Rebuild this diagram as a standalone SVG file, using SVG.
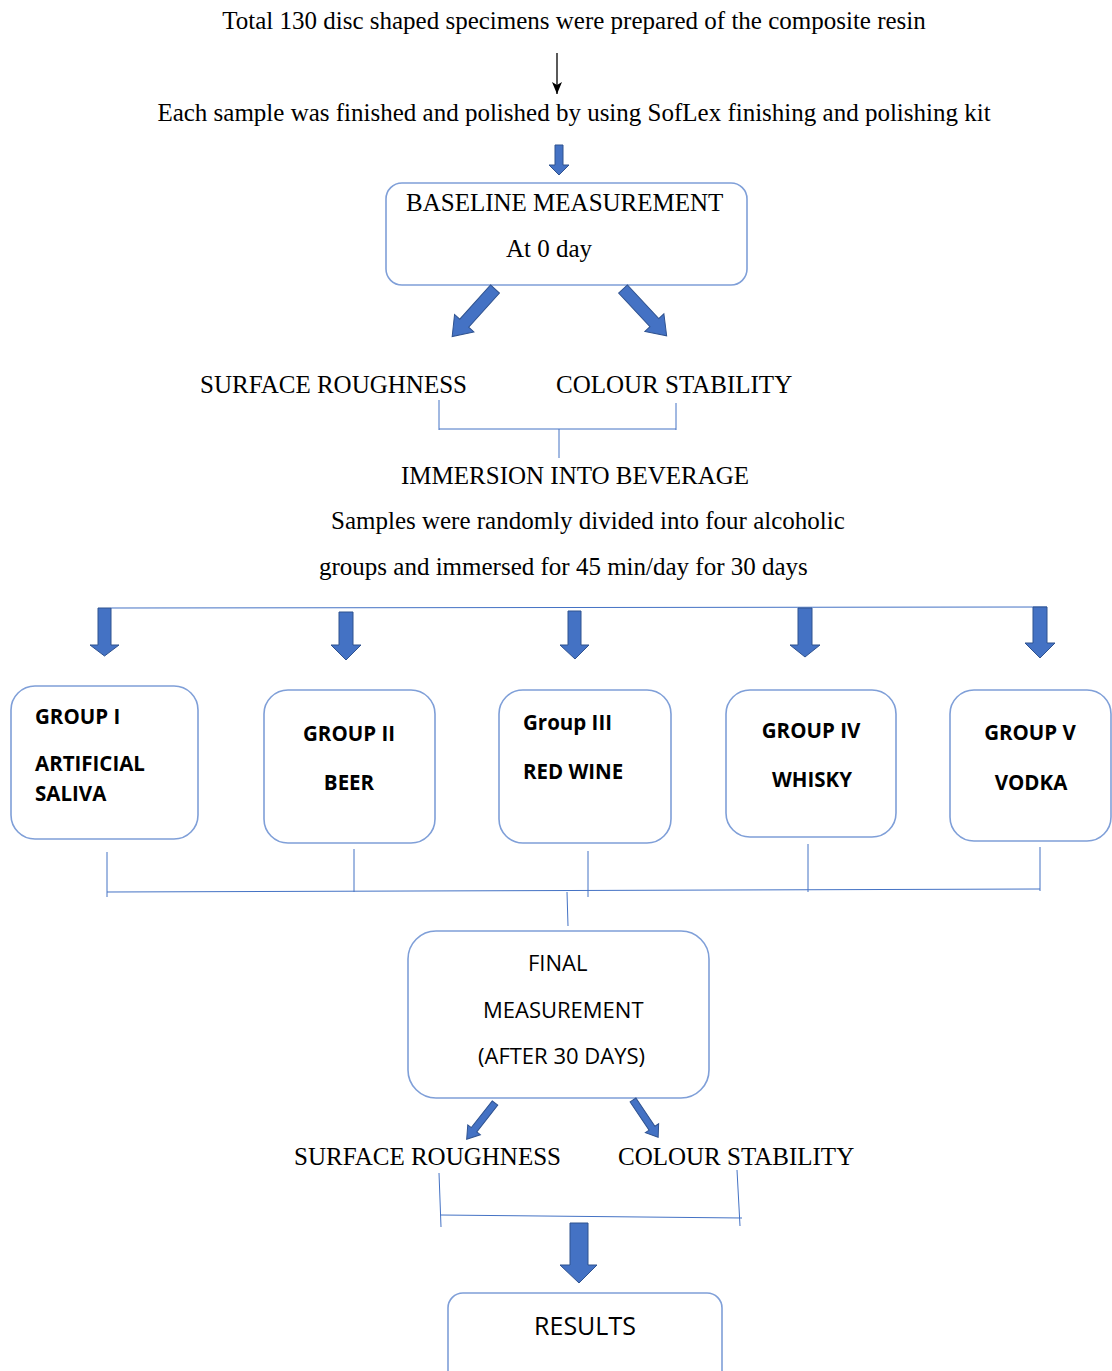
<svg xmlns="http://www.w3.org/2000/svg" width="1112" height="1371" viewBox="0 0 1112 1371">
<style>
.bg{fill:#ffffff}
.ser{font-family:"Liberation Serif","Times New Roman",serif;font-size:25px;fill:#000}
.sb{font-family:"Open Sans","Noto Sans",sans-serif;font-weight:700;font-size:20.5px;fill:#000}
.sr{font-family:"Open Sans","Noto Sans",sans-serif;font-size:22px;fill:#000}
.box{fill:#fff;stroke:#7f9fd8;stroke-width:1.6}
.ln{fill:none;stroke:#4472c4;stroke-width:1}
.blk{fill:#4472c4;stroke:#2f528f;stroke-width:1}
.mid{text-anchor:middle}
</style>
<defs>
<marker id="ah" markerWidth="12" markerHeight="10" refX="12" refY="5" orient="auto" markerUnits="userSpaceOnUse" viewBox="0 0 12 10">
<path d="M0,0 L12,5 L0,10 L3,5 Z" fill="#000"/>
</marker>
</defs>
<rect class="bg" x="0" y="0" width="1112" height="1371"/>

<g id="intro">
<text class="ser mid" x="574" y="29">Total 130 disc shaped specimens were prepared of the composite resin</text>
<text class="ser mid" x="574" y="121">Each sample was finished and polished by using SofLex finishing and polishing kit</text>
</g>

<g id="baseline">
<rect class="box" x="386" y="183" width="361" height="102" rx="16"/>
<text class="ser" x="406" y="211">BASELINE MEASUREMENT</text>
<text class="ser" x="506" y="257">At 0 day</text>
</g>

<g id="labels1">
<text class="ser" x="200" y="393">SURFACE ROUGHNESS</text>
<text class="ser" x="556" y="393">COLOUR STABILITY</text>
</g>

<g id="immersion">
<text class="ser" x="401" y="484">IMMERSION INTO BEVERAGE</text>
<text class="ser" x="331" y="529">Samples were randomly divided into four alcoholic</text>
<text class="ser" x="319" y="575">groups and immersed for 45 min/day for 30 days</text>
</g>

<g id="group1">
<rect class="box" x="11" y="686" width="187" height="153" rx="24"/>
<text class="sb" x="35" y="724">GROUP I</text>
<text class="sb" x="35" y="771">ARTIFICIAL</text>
<text class="sb" x="35" y="801">SALIVA</text>
</g>
<g id="group2">
<rect class="box" x="264" y="690" width="171" height="153" rx="24"/>
<text class="sb mid" x="349" y="741">GROUP II</text>
<text class="sb mid" x="349" y="790">BEER</text>
</g>
<g id="group3">
<rect class="box" x="499" y="690" width="172" height="153" rx="24"/>
<text class="sb" x="523" y="730">Group III</text>
<text class="sb" x="523" y="779">RED WINE</text>
</g>
<g id="group4">
<rect class="box" x="726" y="690" width="170" height="147" rx="24"/>
<text class="sb mid" x="811" y="738">GROUP IV</text>
<text class="sb mid" x="812" y="787">WHISKY</text>
</g>
<g id="group5">
<rect class="box" x="950" y="690" width="161" height="151" rx="24"/>
<text class="sb mid" x="1030" y="740">GROUP V</text>
<text class="sb mid" x="1031" y="790">VODKA</text>
</g>

<g id="final">
<rect class="box" x="408" y="931" width="301" height="167" rx="28"/>
<text class="sr" x="528" y="971">FINAL</text>
<text class="sr" x="483" y="1018">MEASUREMENT</text>
<text class="sr" x="478" y="1064">(AFTER 30 DAYS)</text>
</g>

<g id="labels2">
<text class="ser" x="294" y="1165">SURFACE ROUGHNESS</text>
<text class="ser" x="618" y="1165">COLOUR STABILITY</text>
</g>

<g id="results">
<rect class="box" x="448" y="1293" width="274" height="100" rx="15"/>
<text class="sr mid" x="585" y="1335" style="font-size:25px">RESULTS</text>
</g>

<g id="connectors">
<line x1="557" y1="53" x2="557" y2="94" stroke="#000" stroke-width="1.3" marker-end="url(#ah)"/>
<polygon class="blk" points="555,145 563,145 563,165 569,165 559,175 549,165 555,165"/>
<path class="blk" transform="translate(495,289) rotate(42)" d="M-6,0 L6,0 L6,46 L13,46 L0,64 L-13,46 L-6,46 Z"/>
<path class="blk" transform="translate(623,289) rotate(-43)" d="M-6,0 L6,0 L6,46 L13,46 L0,64 L-13,46 L-6,46 Z"/>
<path class="ln" d="M439,400 V430 M676,403 V430 M439,429 H676 M559,429 V458"/>
<line class="ln" x1="111" y1="608" x2="1047" y2="607"/>
<polygon class="blk" points="98,608 111,608 111,645 119,645 104.5,656 90,645 98,645"/>
<polygon class="blk" points="339,612 353,612 353,645 361,645 346,660 331,645 339,645"/>
<polygon class="blk" points="568,611 581,611 581,645 589,645 575,659 560,645 568,645"/>
<polygon class="blk" points="798,608 812,608 812,645 820,645 805,657 790,645 798,645"/>
<polygon class="blk" points="1033,607 1047,607 1047,643 1055,643 1040,658 1025,643 1033,643"/>
<path class="ln" d="M107,852 V897 M354,849 V892 M588,851 V897 M808,844 V892 M1040,847 V891 M107,892 L1040,889 M567,892 L568,926"/>
<path class="blk" transform="translate(495,1103) rotate(38)" d="M-3.5,0 L3.5,0 L3.5,34 L8,34 L0,46 L-8,34 L-3.5,34 Z"/>
<path class="blk" transform="translate(633,1100) rotate(-34)" d="M-3.5,0 L3.5,0 L3.5,34 L8,34 L0,45 L-8,34 L-3.5,34 Z"/>
<path class="ln" d="M439,1173 L441,1227 M737,1170 L740,1226 M440,1215 L742,1218"/>
<polygon class="blk" points="570,1223 588,1223 588,1265 597,1265 579,1283 560,1265 570,1265"/>
</g>
</svg>
